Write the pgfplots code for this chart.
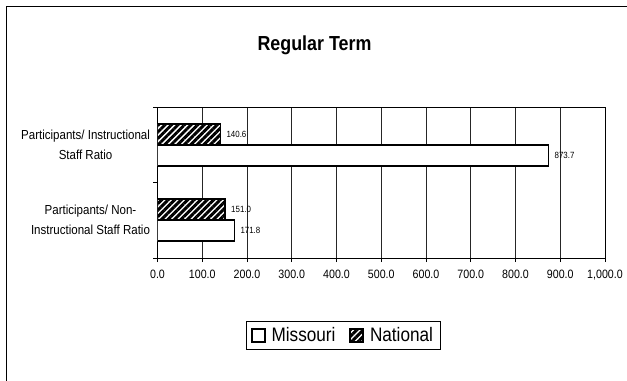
\documentclass[border=0pt]{standalone}
\usepackage{fontspec}
\setmainfont{Liberation Sans}[FakeStretch=0.88]
\usepackage{pgfplots}
\pgfplotsset{compat=1.18}
\usetikzlibrary{patterns.meta}

\begin{document}
\begin{tikzpicture}
\path[use as bounding box] (0bp,0bp) rectangle (627bp,-381bp);
\draw[line width=1.5bp] (6.5bp,-381bp) -- (6.5bp,-6.5bp) -- (627bp,-6.5bp);
\node[font=\fontsize{20.3bp}{24bp}\selectfont\bfseries] at (314.5bp,-45bp) {Regular Term};
\begin{axis}[
    at={(157.5bp,-258bp)}, anchor=south west,
    scale only axis, width=447.5bp, height=151bp,
    xbar, bar width=21bp,
    xmin=0, xmax=1000, ymin=-0.5, ymax=1.5,
    xtick={0,100,...,1000},
    xtick pos=lower, ytick pos=left,
    xticklabel style={font=\fontsize{12.1bp}{14bp}\selectfont, yshift=-5bp},
    /pgf/number format/assume math mode=true,
    xticklabel={\pgfmathprintnumber[fixed,fixed zerofill,precision=1,1000 sep={,}]{\tick}},
    ytick={-0.5,0.5,1.5},
    y tick label as interval,
    yticklabels={{Participants/ Non-\\Instructional Staff Ratio},{Participants/ Instructional\\Staff Ratio}},
    yticklabel style={align=center, font=\fontsize{13.1bp}{20bp}\selectfont},
    tick align=outside, major tick length=4bp,
    tick style={black, line width=0.8bp},
    axis line style={black, line width=1bp},
    xmajorgrids, grid style={black!85, line width=0.8bp},
    nodes near coords={\pgfmathprintnumber[fixed,fixed zerofill,precision=1]{\pgfplotspointmeta}},
    nodes near coords style={font=\fontsize{9bp}{11bp}\selectfont, anchor=west, xshift=2bp},
    legend columns=2,
    legend style={at={(0.4145,-0.513)}, anchor=center, draw=black, line width=0.8bp,
        font=\fontsize{19.5bp}{22bp}\selectfont, inner xsep=5bp, inner ysep=4bp,
        /tikz/every even column/.append style={column sep=12bp}},
    legend image code/.code={\draw[#1, line width=1.6bp] (0bp,-6.5bp) rectangle (13bp,6.5bp);
        \path (17bp,0bp);},
]
\addplot[draw=black, fill=white, line width=1.6bp, bar shift=-10.5bp]
    coordinates {(171.8,0) (873.7,1)};
\addplot[draw=black, fill=white, line width=1.6bp, bar shift=10.5bp,
    postaction={pattern={Lines[angle=45, distance=4.6bp, line width=2.9bp]}, pattern color=black}]
    coordinates {(151.0,0) (140.6,1)};
\legend{Missouri, National}
\end{axis}
\end{tikzpicture}
\end{document}
